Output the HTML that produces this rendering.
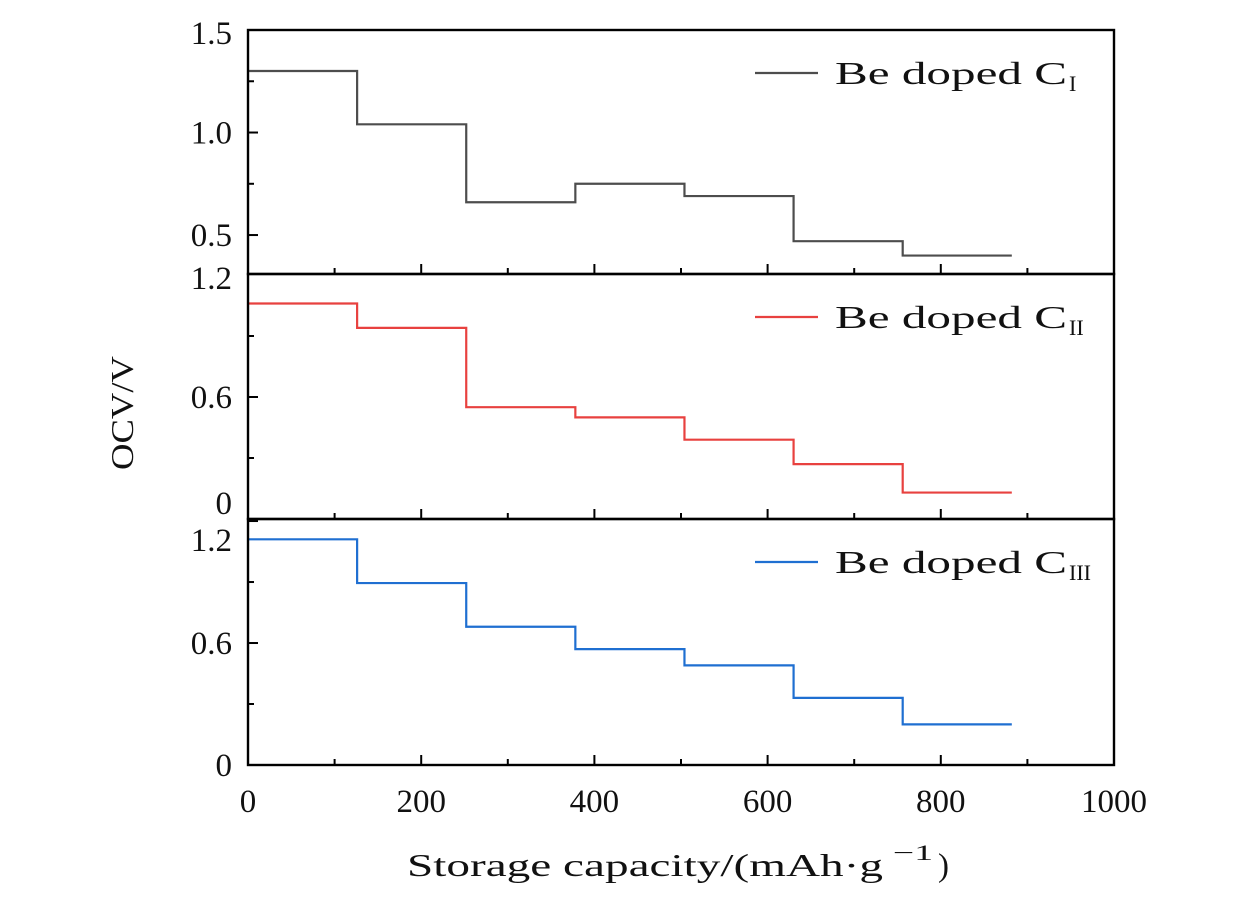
<!DOCTYPE html>
<html><head><meta charset="utf-8"><style>
body{margin:0;background:#fff}
svg text{font-family:"Liberation Serif",serif;fill:#111}
</style></head><body>
<svg id="c" width="1260" height="898" xmlns="http://www.w3.org/2000/svg"></svg>
<script>
const capacities=[0,126,252,378,504,630,756,882];
const ocvCI=[1.30,1.04,0.66,0.75,0.69,0.47,0.40];
const ocvCII=[1.06,0.94,0.55,0.50,0.39,0.27,0.13];
const ocvCIII=[1.11,0.895,0.68,0.57,0.49,0.33,0.20];
const xTicks=[0,200,400,600,800,1000];
const svg=document.getElementById('c');
const NS='http://www.w3.org/2000/svg';
function el(t,a,p){const e=document.createElementNS(NS,t);for(const k in a)e.setAttribute(k,a[k]);(p||svg).appendChild(e);return e;}
const X0=248,X1=1114;
const xs=v=>X0+(v/1000)*(X1-X0);
const panels=[
 {name:'ci',top:30,bot:274,ymin:0.31,ymax:1.5,major:[0.5,1.0,1.5],minor:[0.75,1.25],lbl:['0.5','1.0','1.5'],off:[0,0,3],data:ocvCI,color:'#4d4d4d',sub:'I'},
 {name:'cii',top:274,bot:519,ymin:0,ymax:1.205,major:[0,0.6,1.2],minor:[0.3,0.9],lbl:['0','0.6','1.2'],off:[-16,0,3],data:ocvCII,color:'#e8413f',sub:'II'},
 {name:'ciii',top:519,bot:765,ymin:0,ymax:1.21,major:[0,0.6,1.2],minor:[0.3,0.9],lbl:['0','0.6','1.2'],off:[0,0,19],data:ocvCIII,color:'#1f6fd1',sub:'III'}
];
panels.forEach((p,pi)=>{
 const ys=v=>p.bot-(v-p.ymin)/(p.ymax-p.ymin)*(p.bot-p.top);
 const g=el('g',{});
 
 
 let d='';
 p.data.forEach((v,i)=>{const x0=xs(capacities[i]),x1=xs(capacities[i+1]),y=ys(v);d+=(i?'L':'M')+x0+' '+y+' L'+x1+' '+y+' ';});
 const ln=el('path',{d:d,fill:'none',stroke:p.color,'stroke-width':2.2},g);
 
 
 el('rect',{x:X0,y:p.top,width:X1-X0,height:p.bot-p.top,fill:'none',stroke:'#000','stroke-width':2.4},g);
 p.major.forEach((v,i)=>{const y=ys(v);
  if(y>p.top+2&&y<p.bot-2)el('line',{x1:X0,x2:X0+10,y1:y,y2:y,stroke:'#000','stroke-width':2},g);
  const t=el('text',{x:X0-16,y:y+11+p.off[i],'text-anchor':'end','font-size':33},g);t.textContent=p.lbl[i];
  });
 p.minor.forEach(v=>{const y=ys(v);el('line',{x1:X0,x2:X0+6,y1:y,y2:y,stroke:'#000','stroke-width':2},g);});
 for(let v=100;v<1000;v+=100){const x=xs(v);el('line',{x1:x,x2:x,y1:p.bot,y2:p.bot-(v%200==0?10:6),stroke:'#000','stroke-width':2},g);}
 const ly=p.top+43;
 const lg=el('g',{},g);
 
 
 el('line',{x1:755,x2:818,y1:ly,y2:ly,stroke:p.color,'stroke-width':2.2},lg);
 const lt=el('text',{x:835,y:ly+11,'font-size':32,textLength:232,lengthAdjust:'spacingAndGlyphs'},lg);
 lt.textContent='Be doped C';
 const ls=el('text',{x:1069,y:ly+18,'font-size':22},lg);
 ls.textContent=p.sub;
});
xTicks.forEach(v=>{const t=el('text',{x:xs(v),y:812,'text-anchor':'middle','font-size':33},null);t.textContent=v;
 });
const xt=el('text',{x:407,y:876,'font-size':32,textLength:476,lengthAdjust:'spacingAndGlyphs'});
xt.textContent='Storage capacity/(mAh·g';

const xs2=el('text',{x:893,y:860,'font-size':22,textLength:40,lengthAdjust:'spacingAndGlyphs'});xs2.textContent='−1';
const xs3=el('text',{x:938,y:876,'font-size':33});xs3.textContent=')';
const yt=el('text',{x:0,y:0,'text-anchor':'middle','font-size':32,textLength:114,lengthAdjust:'spacingAndGlyphs',transform:'translate(133,413) rotate(-90)'});
yt.textContent='OCV/V';

</script>
</body></html>
